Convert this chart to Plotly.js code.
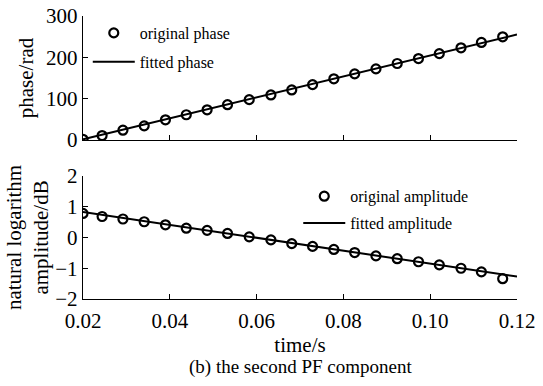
<!DOCTYPE html>
<html>
<head>
<meta charset="utf-8">
<script src="https://cdn.plot.ly/plotly-3.0.1.min.js"></script>
<style>
  html, body { margin: 0; padding: 0; background: #fff; }
  #chart { width: 543px; height: 386px; }
</style>
</head>
<body>
<div id="chart"></div>
<script>
// Sample times (s) of the second PF component
const time = [0.0200, 0.0244, 0.0292, 0.0341, 0.0390, 0.0438, 0.0486, 0.0533, 0.0583, 0.0633, 0.0681,
              0.0729, 0.0778, 0.0826, 0.0875, 0.0924, 0.0973, 0.1021, 0.1071, 0.1118, 0.1167];

// Instantaneous phase (rad)
const originalPhase = [1.6, 10.6, 23.6, 34.1, 48.8, 61.0, 73.0, 85.4, 97.6, 109.0, 121.0,
                       134.0, 148.0, 160.0, 172.0, 185.0, 197.0, 209.0, 223.0, 236.0, 249.6];

// Natural logarithm of the instantaneous amplitude
const originalAmplitude = [0.78, 0.68, 0.60, 0.51, 0.41, 0.30, 0.23, 0.13, 0.02, -0.08, -0.20,
                           -0.29, -0.39, -0.49, -0.60, -0.69, -0.79, -0.89, -1.00, -1.12, -1.34];

// Least-squares lines over the full time span
const fitTime = [0.02, 0.12];
const fittedPhase = [1.5, 255];
const fittedAmplitude = [0.83, -1.27];

// Axis ticks
const xTicks = [0.02, 0.04, 0.06, 0.08, 0.10, 0.12];
const xTickText = ['0.02', '0.04', '0.06', '0.08', '0.10', '0.12'];
const phaseTicks = [0, 100, 200, 300];
const ampTicks = [-2, -1, 0, 1, 2];

const FONT = 'Liberation Serif';
const BLACK = '#000';

const circle = { symbol: 'circle-open', size: 9, color: BLACK, line: { width: 2.2, color: BLACK } };
const fitLine = { color: BLACK, width: 2 };

const traces = [
  { x: fitTime, y: fittedPhase, mode: 'lines', name: 'fitted phase', line: fitLine,
    xaxis: 'x', yaxis: 'y', legend: 'legend', legendrank: 2, legendgroup: 'p2' },
  { x: time, y: originalPhase, mode: 'markers', name: 'original phase', marker: circle,
    xaxis: 'x', yaxis: 'y', legend: 'legend', legendrank: 1, legendgroup: 'p1' },
  { x: fitTime, y: fittedAmplitude, mode: 'lines', name: 'fitted amplitude', line: fitLine,
    xaxis: 'x2', yaxis: 'y2', legend: 'legend2', legendrank: 2, legendgroup: 'a2' },
  { x: time, y: originalAmplitude, mode: 'markers', name: 'original amplitude', marker: circle,
    xaxis: 'x2', yaxis: 'y2', legend: 'legend2', legendrank: 1, legendgroup: 'a1' }
];

const xCommon = {
  range: [0.02, 0.12], tickvals: xTicks, ticktext: xTickText,
  ticks: 'inside', ticklen: 5, tickwidth: 1, tickcolor: BLACK,
  showline: true, linecolor: BLACK, linewidth: 1.2,
  showgrid: false, zeroline: false, fixedrange: true,
  tickfont: { family: FONT, size: 21, color: BLACK }
};
const yCommon = {
  ticks: 'inside', ticklen: 5, tickwidth: 1, tickcolor: BLACK,
  showline: true, linecolor: BLACK, linewidth: 1.2,
  showgrid: false, zeroline: false, fixedrange: true,
  tickfont: { family: FONT, size: 21, color: BLACK }
};

const legendCommon = {
  font: { family: FONT, size: 16, color: BLACK },
  bgcolor: 'rgba(0,0,0,0)', borderwidth: 0,
  traceorder: 'grouped', tracegroupgap: 5,
  xanchor: 'left', yanchor: 'top', itemwidth: 42
};

const layout = {
  width: 543, height: 386,
  margin: { l: 83, r: 26, t: 16, b: 87 },
  paper_bgcolor: '#fff', plot_bgcolor: '#fff',
  font: { family: FONT, color: BLACK },
  showlegend: true,
  xaxis: Object.assign({}, xCommon, { anchor: 'y', showticklabels: false, domain: [0, 1] }),
  yaxis: Object.assign({}, yCommon, {
    domain: [0.562, 1], range: [0, 300], tickvals: phaseTicks, anchor: 'x',
    title: { text: 'phase/rad', font: { family: FONT, size: 21, color: BLACK }, standoff: 6 }
  }),
  xaxis2: Object.assign({}, xCommon, {
    anchor: 'y2', domain: [0, 1], ticklabelstandoff: 3,
    title: { text: 'time/s', font: { family: FONT, size: 21, color: BLACK }, standoff: 1 }
  }),
  yaxis2: Object.assign({}, yCommon, {
    domain: [0, 0.435], range: [-2, 2], tickvals: ampTicks, anchor: 'x2',
    title: { text: 'natural logarithm<br>amplitude/dB', font: { family: FONT, size: 21, color: BLACK }, standoff: 0 }
  }),
  legend: Object.assign({}, legendCommon, { x: 0.011, y: 1.0 }),
  legend2: Object.assign({}, legendCommon, { x: 0.496, y: 0.423, tracegroupgap: 3 }),
  annotations: [{
    text: '(b) the second PF component', xref: 'paper', yref: 'paper',
    x: 0.5, y: -0.24, xanchor: 'center', yanchor: 'middle', showarrow: false,
    font: { family: FONT, size: 19, color: BLACK }
  }]
};

Plotly.newPlot('chart', traces, layout, { displayModeBar: false, staticPlot: true });
</script>
</body>
</html>
